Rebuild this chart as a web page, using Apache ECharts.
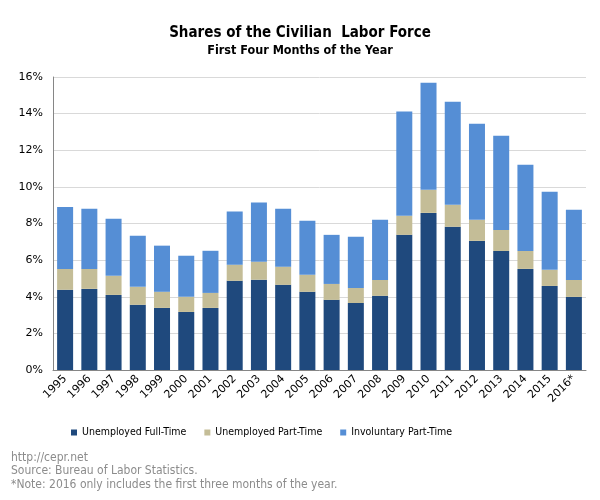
<!DOCTYPE html>
<html><head><meta charset="utf-8">
<script src="https://cdn.jsdelivr.net/npm/echarts@6/dist/echarts.min.js"></script>
<style>html,body{margin:0;padding:0;background:#fff}#c{width:600px;height:500px}</style>
</head><body><div id="c"></div>
<script>
const years = ['1995','1996','1997','1998','1999','2000','2001','2002','2003','2004','2005','2006','2007','2008','2009','2010','2011','2012','2013','2014','2015','2016*'];
const unemployedFullTime = [4.38,4.43,4.10,3.56,3.39,3.17,3.39,4.87,4.93,4.65,4.27,3.83,3.66,4.05,7.38,8.58,7.82,7.05,6.50,5.52,4.59,3.99];
const unemployedPartTime = [1.14,1.09,1.04,0.98,0.88,0.83,0.82,0.88,0.98,0.99,0.93,0.87,0.82,0.87,1.04,1.26,1.20,1.15,1.15,0.98,0.88,0.93];
const involuntaryPartTime = [3.38,3.29,3.12,2.79,2.52,2.24,2.30,2.90,3.23,3.17,2.95,2.68,2.79,3.28,5.69,5.85,5.63,5.25,5.14,4.71,4.26,3.83];
const seriesNames = ['Unemployed Full-Time','Unemployed Part-Time','Involuntary Part-Time'];
const colors = ['#1F497D','#C4BD97','#558ED5'];
const font = '"DejaVu Sans Condensed", "DejaVu Sans", sans-serif';
const axisFont = '"DejaVu Sans", sans-serif';
const chart = echarts.init(document.getElementById('c'));
const mk = (name, data, color) => ({
  name, type: 'bar', stack: 'a', data, barWidth: 16,
  itemStyle: {color}, emphasis: {disabled: true}
});
chart.setOption({
  animation: false,
  textStyle: {fontFamily: font},
  title: [
    {text: 'Shares of the Civilian  Labor Force', left: 'center', top: 21,
     textStyle: {fontSize: 15, fontWeight: 'bold', color: '#000', fontFamily: font}},
    {text: 'First Four Months of the Year', left: 'center', top: 39,
     textStyle: {fontSize: 12.5, fontWeight: 'bold', color: '#000', fontFamily: font}}
  ],
  grid: {left: 53, right: 14, top: 77, bottom: 130, containLabel: false},
  legend: {
    data: seriesNames, bottom: 57, left: 66, itemWidth: 6, itemHeight: 6, itemGap: 18,
    icon: 'rect', textStyle: {fontSize: 10.5, color: '#000', fontFamily: font}
  },
  xAxis: {
    type: 'category', data: years,
    axisLine: {lineStyle: {color: '#868686', width: 1}},
    axisTick: {show: false},
    axisLabel: {rotate: 45, fontSize: 11, color: '#000', margin: 7, interval: 0, fontFamily: axisFont}
  },
  yAxis: {
    type: 'value', min: 0, max: 16, interval: 2,
    axisLine: {show: true, lineStyle: {color: '#868686', width: 1}},
    axisTick: {show: false},
    splitLine: {lineStyle: {color: '#D9D9D9', width: 1}},
    axisLabel: {formatter: '{value}%', fontSize: 11, color: '#000', margin: 10, fontFamily: axisFont}
  },
  series: [
    mk(seriesNames[0], unemployedFullTime, colors[0]),
    mk(seriesNames[1], unemployedPartTime, colors[1]),
    mk(seriesNames[2], involuntaryPartTime, colors[2])
  ],
  graphic: [
    {type: 'text', left: 11, top: 452, style: {text: 'http://cepr.net', fontSize: 12, fill: '#8c8c8c', fontFamily: font}},
    {type: 'text', left: 11, top: 465, style: {text: 'Source: Bureau of Labor Statistics.', fontSize: 12, fill: '#8c8c8c', fontFamily: font}},
    {type: 'text', left: 11, top: 479, style: {text: '*Note: 2016 only includes the first three months of the year.', fontSize: 12, fill: '#8c8c8c', fontFamily: font}}
  ]
});
</script></body></html>
